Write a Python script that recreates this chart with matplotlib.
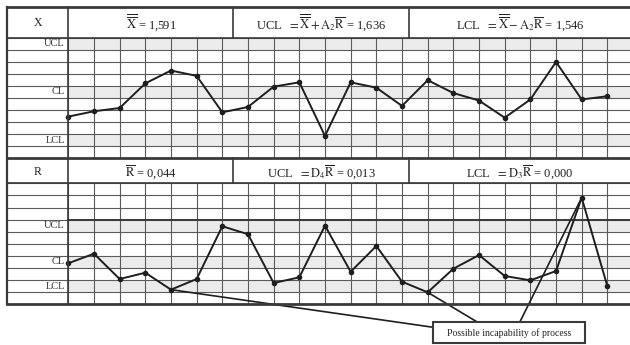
import numpy as np
import matplotlib.pyplot as plt
from matplotlib.patches import ConnectionPatch, Rectangle

plt.rcParams['font.family'] = ['Liberation Serif', 'DejaVu Serif']
plt.rcParams['mathtext.fontset'] = 'stix'

# sample numbers and readings
samples = np.arange(1, 23)
x_bar = [1.568, 1.573, 1.576, 1.599, 1.611, 1.606, 1.572, 1.577, 1.596, 1.600, 1.550,
         1.600, 1.595, 1.578, 1.602, 1.590, 1.583, 1.567, 1.584, 1.619, 1.584, 1.587]
# R chart read as grid rows above the bottom line
r_level = [3.39, 4.18, 2.09, 2.61, 1.21, 2.09, 6.45, 5.79, 1.76, 2.23, 6.50,
           2.69, 4.82, 1.87, 0.99, 2.94, 4.07, 2.34, 1.98, 2.75, 8.81, 1.49]

x_cl, x_ucl, x_lcl = 1.591, 1.636, 1.546
r_rows = {'UCL': 6.5, 'CL': 3.5, 'LCL': 1.5}
flagged = [4, 14, 20]   # points tied to the note

x_header = ['X', r'$\overline{\overline{\rm X}}$ = 1,591',
            r'UCL  $=\overline{\overline{\rm X}}+{\rm A}_2\overline{\rm R}$ = 1,636',
            r'LCL  $=\overline{\overline{\rm X}}-{\rm A}_2\overline{\rm R}$ = 1,546']
r_header = ['R', r'$\overline{\rm R}$ = 0,044',
            r'UCL  $={\rm D}_4\overline{\rm R}$ = 0,013',
            r'LCL  $={\rm D}_3\overline{\rm R}$ = 0,000']
note = 'Possible incapability of process'

W, H = 630, 345
fig = plt.figure(figsize=(W / 100, H / 100), dpi=100)

grid_c = '#5a5a5a'
frame_c = '#3a3a3a'
line_c = '#1e1e1e'
shade_c = '#ebebeb'

# x range: sample 1 sits on the label-column edge (px 68.3), 25.67 px per sample
px_step = 25.67
x_lo = 1 - (68.3 - 7) / px_step
x_hi = 1 + (630 - 68.3) / px_step


def make_axes(top, bottom):
    ax = fig.add_axes([7 / W, 1 - bottom / H, 1 - 7 / W, (bottom - top) / H])
    ax.set_xlim(x_lo, x_hi)
    ax.axis('off')
    return ax


def draw_grid(ax, lo, step, shaded):
    for k in range(11):
        ax.axhline(lo + k * step, color=grid_c, lw=0.8, zorder=1)
    for r in shaded:
        ax.fill_between([1, x_hi], lo + r * step, lo + (r + 1) * step,
                        color=shade_c, lw=0, zorder=0)
    for s in samples:
        ax.axvline(s, color=grid_c, lw=0.8, zorder=1)


# X chart
ax_x = make_axes(37.7, 158.3)
row_x = (x_ucl - x_cl) / 4
x_lo_val = x_lcl - 1.5 * row_x
ax_x.set_ylim(x_lo_val, x_lo_val + 10 * row_x)
draw_grid(ax_x, x_lo_val, row_x, [9, 5, 1])
for lab, v in zip(['UCL', 'CL', 'LCL'], [x_ucl, x_cl, x_lcl]):
    ax_x.text(0.86, v, lab, ha='right', va='center', fontsize=7.5, color='#333')
ax_x.plot(samples, x_bar, color=line_c, lw=1.4, marker='o', ms=3, zorder=3,
          clip_on=False)

# R chart
ax_r = make_axes(183.3, 304.3)
ax_r.set_ylim(0, 10)
draw_grid(ax_r, 0, 1, [6, 3, 1])
ax_r.axhline(7, xmin=(1 - x_lo) / (x_hi - x_lo), color=frame_c, lw=1.4, zorder=1)
for lab, v in r_rows.items():
    ax_r.text(0.86, v, lab, ha='right', va='center', fontsize=7.5, color='#333')
ax_r.plot(samples, r_level, color=line_c, lw=1.4, marker='o', ms=3, zorder=3,
          clip_on=False)

# frame and header cells, in pixel units
ov = fig.add_axes([0, 0, 1, 1], zorder=5)
ov.set_xlim(0, W)
ov.set_ylim(H, 0)
ov.axis('off')
ov.patch.set_alpha(0)
for y0 in [7, 37.7, 158.3, 183.3, 304.3]:
    lw = 2.0 if y0 in (7, 158.3, 304.3) else 1.2
    ov.plot([7, W], [y0, y0], color=frame_c, lw=lw)
ov.plot([7, 7], [7, 304.3], color=frame_c, lw=1.6)
ov.plot([68.3, 68.3], [7, 304.3], color=frame_c, lw=1.2)
for top, bot in [(7, 37.7), (158.3, 183.3)]:
    for xd in [233.3, 409.3]:
        ov.plot([xd, xd], [top, bot], color=frame_c, lw=1.2)

cells = [38, 151, 321, 520]
for labels, yc in [(x_header, 23), (r_header, 172)]:
    for i, (t, xc) in enumerate(zip(labels, cells)):
        ov.text(xc, yc, t, ha='center', va='center',
                fontsize=9 if i else 8.5, color='#222')

# note box with leader lines
ends = [(433.3, 327.3), (476.7, 321.7), (520, 321.7)]
for i, (ex, ey) in zip(flagged, ends):
    con = ConnectionPatch(xyA=(samples[i], r_level[i]), coordsA=ax_r.transData,
                          xyB=(ex, ey), coordsB=ov.transData,
                          color=line_c, lw=1.2, zorder=2)
    fig.add_artist(con)
ov.add_patch(Rectangle((433.3, 321.7), 151.7, 21.6, fc='white', ec=frame_c,
                       lw=1.5, zorder=6))
ov.text(509, 332.8, note, ha='center', va='center', fontsize=7, color='#222',
        zorder=7)

fig.savefig('out.png', dpi=100)
